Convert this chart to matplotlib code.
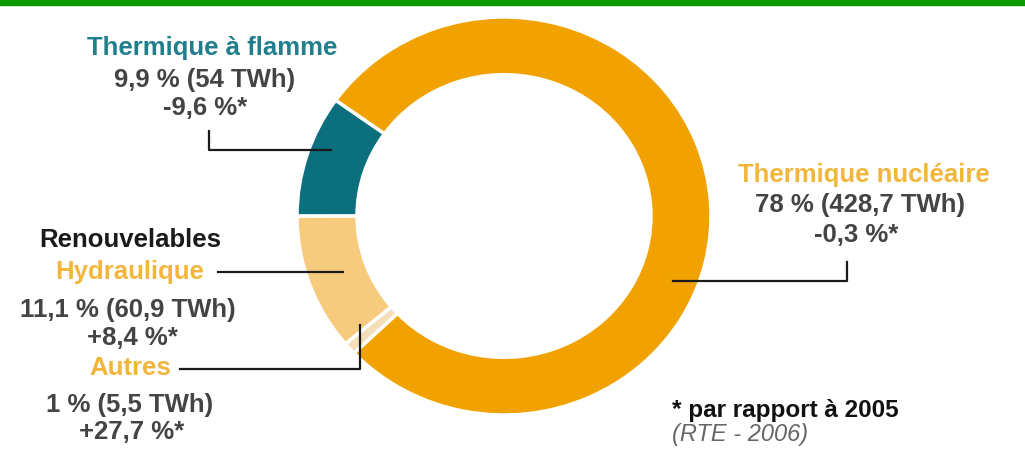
import matplotlib.pyplot as plt

plt.rcParams['font.family'] = ['Liberation Sans', 'DejaVu Sans']

# production 2006 (RTE), parts en %
sources = ['Thermique à flamme', 'Hydraulique', 'Autres', 'Thermique nucléaire']
parts = [9.9, 11.1, 1.0, 78.0]
twh = ['54', '60,9', '5,5', '428,7']
evol = ['-9,6', '+8,4', '+27,7', '-0,3']
couleurs = ['#0b6f7d', '#f7cb7e', '#f4dfba', '#f1a200']

W, H = 1025, 468
fig = plt.figure(figsize=(W / 100, H / 100), dpi=100)

# anneau (légèrement elliptique comme l'original)
axp = fig.add_axes([297 / W, (H - 415) / H, 414 / W, 398 / H])
axp.pie(parts, colors=couleurs, startangle=144.4, counterclock=True,
        wedgeprops=dict(width=0.29, edgecolor='white', linewidth=2.5))
axp.set_aspect('auto')
axp.set_xlim(-1, 1)
axp.set_ylim(-1, 1)
axp.axis('off')

# calque texte en coordonnées pixel
ax = fig.add_axes([0, 0, 1, 1])
ax.set_xlim(0, W)
ax.set_ylim(H, 0)
ax.axis('off')
ax.patch.set_alpha(0)

# bandeau vert en haut
ax.axhspan(0, 5, color='#0a9a00', zorder=1)

gris = '#444444'
fs = 18.5
lw = 1.6
trait = '#1a1a1a'

def label(x, y, s, c=gris, **kw):
    ax.text(x, y, s, ha='center', va='center', color=c, fontsize=fs,
            fontweight='bold', **kw)

# Thermique à flamme
label(212, 48, sources[0], c='#1f7f8a')
label(205, 80, f'{parts[0]:.1f} % ({twh[0]} TWh)'.replace('.', ','))
label(205, 108, f'{evol[0]} %*')
ax.plot([209, 209, 331], [131, 150, 150], color=trait, lw=lw)

# Renouvelables
label(130, 240, 'Renouvelables', c='#1a1a1a')
label(130, 272, sources[1], c='#f2b63c')
ax.plot([218, 343], [272, 272], color=trait, lw=lw)
label(128, 310, f'{parts[1]:.1f} % ({twh[1]} TWh)'.replace('.', ','))
label(132, 338, f'{evol[1]} %*')
label(130, 368, sources[2], c='#f2b63c')
ax.plot([180, 360, 360], [369, 369, 325], color=trait, lw=lw)
label(130, 405, f'{parts[2]:.0f} % ({twh[2]} TWh)')
label(132, 432, f'{evol[2]} %*')

# Thermique nucléaire
label(864, 175, sources[3], c='#f2b63c')
label(860, 205, f'{parts[3]:.0f} % ({twh[3]} TWh)')
label(856, 235, f'{evol[3]} %*')
ax.plot([673, 847, 847], [281, 281, 262], color=trait, lw=lw)

# note
ax.text(672, 410, '* par rapport à 2005', ha='left', va='center',
        color='#111111', fontsize=17.5, fontweight='bold')
ax.text(672, 434, '(RTE - 2006)', ha='left', va='center',
        color='#666666', fontsize=17, style='italic')

fig.savefig('out.png', dpi=100)
